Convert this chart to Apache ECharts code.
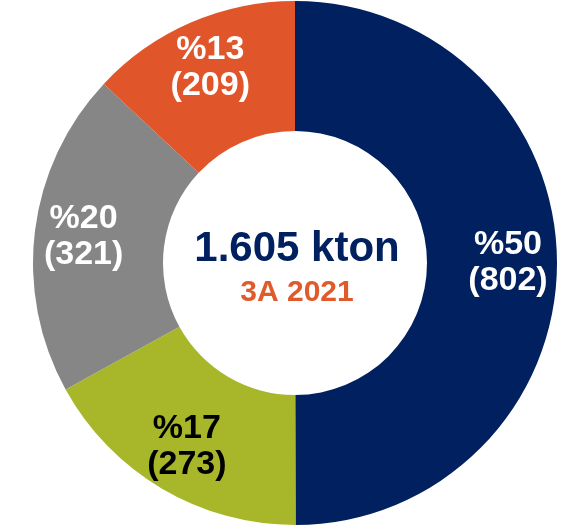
<!DOCTYPE html>
<html>
<head>
<meta charset="utf-8">
<script src="https://cdn.jsdelivr.net/npm/echarts@6/dist/echarts.min.js"></script>
<style>
  html, body { margin: 0; padding: 0; background: #fff; }
  #chart { width: 563px; height: 526px; }
</style>
</head>
<body>
<div id="chart"></div>
<script>
// slice data, clockwise from 12 o'clock
const names = ['A', 'B', 'C', 'D'];
const values = [802, 273, 321, 209];
const colors = ['#00205f', '#a8b72a', '#868686', '#e1552a'];
const labelColors = ['#ffffff', '#000000', '#ffffff', '#ffffff'];
const totalText = '1.605 kton';
const periodText = '3A 2021';

const chart = echarts.init(document.getElementById('chart'));

const slices = values.map((v, i) => ({
  name: names[i],
  value: v,
  itemStyle: { color: colors[i] },
}));

const labelFormatter = (p) => '%' + Math.round(p.percent) + '\n(' + p.value + ')';

chart.setOption({
  animation: false,
  series: [
    {
      type: 'pie',
      center: [295, 263],
      radius: [132, 262],
      startAngle: 90,
      clockwise: true,
      silent: true,
      label: { show: false },
      labelLine: { show: false },
      data: slices,
    },
    {
      // label carrier, transparent, so labels sit a bit further out
      type: 'pie',
      center: [295, 263],
      radius: [158, 262],
      startAngle: 90,
      clockwise: true,
      silent: true,
      itemStyle: { color: 'rgba(0,0,0,0)' },
      label: {
        show: true,
        position: 'inside',
        formatter: labelFormatter,
        fontFamily: 'Liberation Sans, Arial, sans-serif',
        fontWeight: 'bold',
        fontSize: 34,
        lineHeight: 36,
        align: 'center',
      },
      labelLine: { show: false },
      data: values.map((v, i) => ({
        name: names[i],
        value: v,
        label: { color: labelColors[i] },
      })),
    },
  ],
  graphic: [
    {
      type: 'text',
      x: 297,
      y: 249,
      style: {
        text: totalText,
        fill: '#002060',
        font: 'bold 42px "Liberation Sans", Arial, sans-serif',
        textAlign: 'center',
        textVerticalAlign: 'middle',
      },
    },
    {
      type: 'text',
      x: 297,
      y: 293,
      style: {
        text: periodText,
        fill: '#e05a2b',
        font: 'bold 30px "Liberation Sans", Arial, sans-serif',
        textAlign: 'center',
        textVerticalAlign: 'middle',
      },
    },
  ],
});
</script>
</body>
</html>
